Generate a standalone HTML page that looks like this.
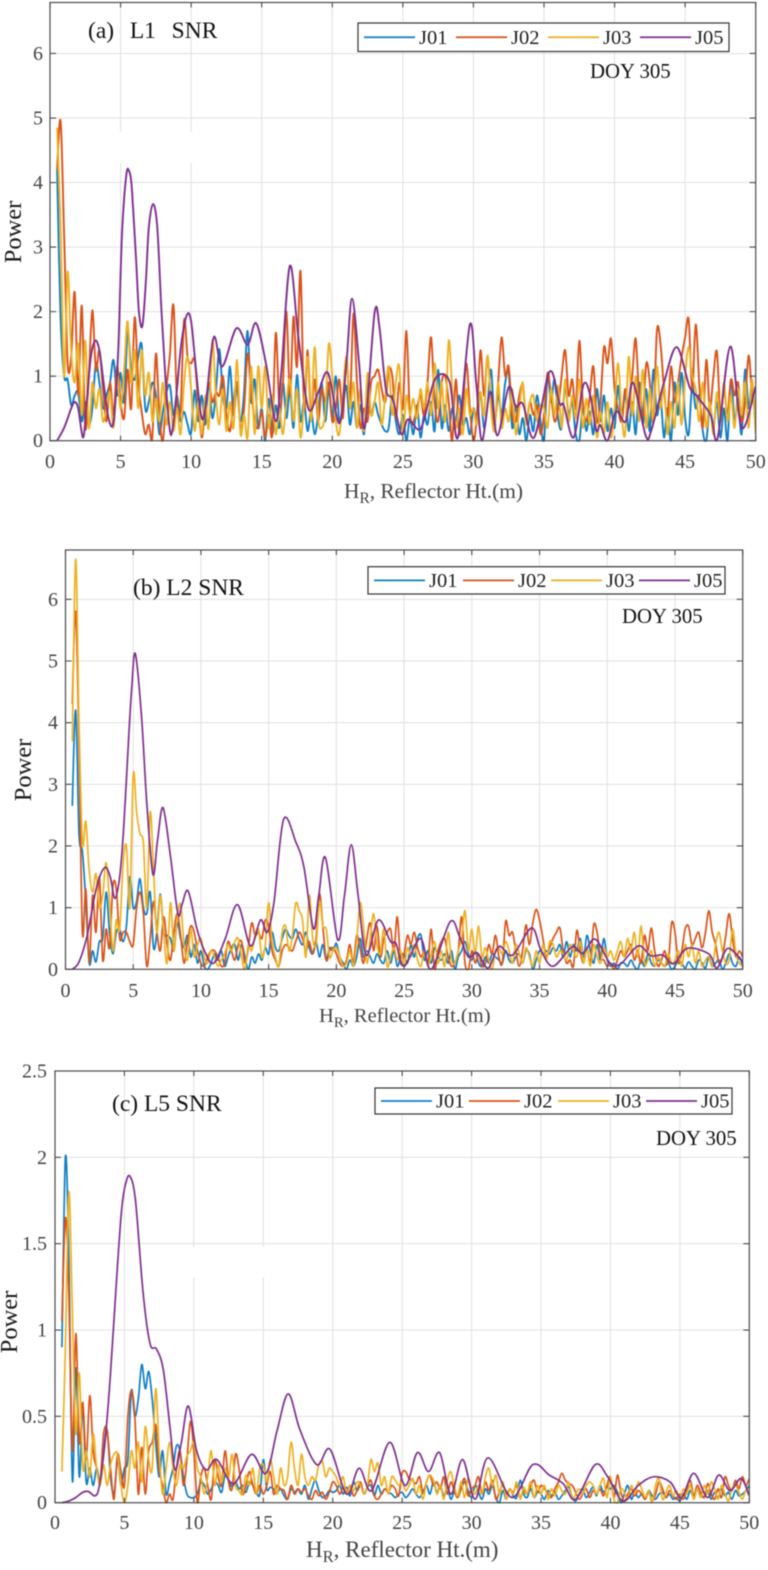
<!DOCTYPE html>
<html lang="en">
<head>
<meta charset="utf-8">
<title>Reflector height periodograms</title>
<style>
html,body{margin:0;padding:0;background:#fff}
svg{display:block;filter:blur(.4px)}
text{font-family:"Liberation Serif",serif}
.tick{font-size:20px;fill:#444}
.xl{font-size:20px;fill:#444}
.yl{font-size:24.5px;fill:#1c1c1c}
.ttl{font-size:23.5px;fill:#111}
.leg{font-size:20.5px;fill:#222}
.doy{font-size:20.8px;fill:#111}
</style>
</head>
<body>
<svg id="fig" xmlns="http://www.w3.org/2000/svg" width="768" height="1570" viewBox="0 0 768 1570"></svg>
<script>
// Tick labels
const xTicks = [0,5,10,15,20,25,30,35,40,45,50];
const yTicksAB = [0,1,2,3,4,5,6];
const yTicksC = [0,0.5,1,1.5,2,2.5];
const seriesNames = ["J01","J02","J03","J05"];

// Panel (a) L1 SNR. Noisy series are sampled every 0.25 m from 0.5 m.
const aJ01 = [4.2,1.9,1.0,.95,.55,.7,.75,.3,.6,.25,.5,1.2,.9,.5,.7,.9,1.25,.7,
1.05,.6,1.7,1.1,.95,1.3,1.48,.5,.6,.9,.7,.1,.45,.75,.85,.4,.7,.3,.45,.25,
.12,.78,.3,.7,.25,.9,.35,.75,1.42,.7,.5,1.15,.4,.85,.3,.75,1.7,.6,.95,.2,
.5,0,.65,.1,.55,.2,.9,.35,.8,.2,1.02,.3,.6,.15,.45,.1,.4,.9,.3,.8,
.35,1.0,.3,.5,.85,.25,.6,.2,.55,.1,.9,.4,.6,.4,.25,.15,.2,.7,.3,.1,
.4,0,.35,.1,.55,.05,.4,.25,.6,.15,1.1,.2,.55,.15,.5,.3,.7,.25,.35,.1,
.5,.3,.75,.2,.55,1.1,.3,.7,.4,.9,1.05,.2,.55,.1,.35,0,.4,.15,.7,.3,
0,1.0,.6,.95,.35,.2,.85,.4,.6,.1,0,.5,.15,.45,.1,.8,.3,.7,.15,.5,
.2,.85,.3,.75,.15,.6,.1,.9,.25,.8,.15,1.1,.4,.7,.05,.5,0,.9,.4,1.05,
.35,.1,.85,.5,.7,.15,0,.55,.2,.6,.05,.5,0,.95,.3,.65,.1,1.1,.5,.9,
.15];
const aJ02 = [4.2,4.95,3.2,1.2,1.3,2.3,.7,2.09,.2,1.0,2.02,1.1,1.4,.8,.3,.9,.4,1.15,
.6,.35,1.1,.5,1.91,.9,.45,.1,.25,.05,1.35,.4,0,.8,1.35,2.1,.6,.5,1.87,1.3,
1.2,1.25,.6,.05,.5,.9,.6,.75,.7,1.0,.4,.15,.6,.9,.2,.5,1.35,.8,.3,.2,
.45,.05,.4,.1,1.67,.5,.9,2.0,.7,1.92,1.15,2.63,.5,1.4,.4,.95,.3,.8,.6,.9,
.3,.5,.95,.35,1.3,.6,1.97,.9,.2,.5,.3,.9,1.0,1.1,.8,.6,1.1,1.0,.35,.9,
.5,1.7,.4,.3,.5,.7,.4,.9,1.6,.6,.3,.9,1.0,.6,0,.95,.1,.5,1.2,.5,
0,.4,1.4,.7,1.3,.6,.25,.9,1.6,1.0,1.15,.4,.3,.7,.85,.3,.6,.4,.55,.1,
.4,1.05,.7,.3,.5,1.0,1.4,.7,.95,.5,1.55,.6,.3,.7,1.15,.3,.6,1.45,1.2,1.58,
.8,.5,.3,.8,.5,1.0,1.58,.6,.4,1.2,.9,.3,1.7,1.52,.8,.4,1.15,.6,.9,1.3,
1.6,1.88,.8,1.8,.9,.2,1.25,.5,1.0,1.38,.4,.8,.4,.95,.7,.9,.3,.6,1.32,.7,
.5];
const aJ03 = [4.85,3.3,1.0,2.62,1.4,.9,1.5,.4,1.55,.2,.9,.5,.8,.3,.5,.75,.2,1.0,
.5,1.1,1.85,.9,1.4,.5,1.4,.7,1.05,.3,.65,.3,.9,.25,.6,.15,.5,.1,.9,1.3,
.8,.15,.6,.1,.7,.2,1.55,.7,.25,.8,.15,.6,.2,1.25,.1,.4,.05,1.15,.1,1.15,
.5,1.15,.2,.7,.1,.5,.1,.6,.95,.3,.8,.05,.6,1.3,.3,1.45,.35,.2,.45,1.5,
1.0,.3,.1,.7,1.3,.5,.9,.2,.8,.15,1.05,.4,.6,.9,.25,.7,1.15,.4,.9,1.15,
.1,.7,.4,.65,.35,.8,.5,.9,.4,1.2,.5,.9,.3,1.55,.8,.2,.5,.1,.8,.4,
.5,.25,.75,.4,1.32,.5,.15,.9,.2,.5,.3,.8,.1,.5,.9,.25,.6,.7,.3,.55,
.5,.2,.8,.4,.85,.2,.95,.3,.7,.35,.95,.2,.65,.25,.7,.05,.45,.1,.6,.05,
.5,1.2,.4,.1,1.3,.4,1.0,.3,1.1,.2,.8,.3,1.15,.5,.9,.1,.6,.2,.9,.25,
1.0,1.45,1.0,.8,.3,.9,.2,.6,.1,.75,.3,.9,.3,.7,.2,.8,.4,.9,.2,.95,
.1];
const aJ05X = [.5,1,1.5,1.75,2,2.35,2.6,2.9,3.2,3.5,3.8,4.1,4.4,4.6,4.85,5.1,5.4,5.6,5.8,6.1,6.3,6.55,6.8,7,7.3,7.6,7.9,8.2,8.5,8.7,9,9.3,9.7,10,10.3,10.7,11,11.6,12.2,13.2,14,14.6,15.3,16,16.4,17,17.6,18.3,19,19.7,20.5,21,21.4,21.9,22.3,23,23.35,23.8,24.3,24.9,25.35,26.1,26.5,27.3,28.3,28.9,29.75,30.2,30.6,31.2,31.7,32.5,33,33.5,34.3,35.4,36.1,36.4,37.1,37.8,38.3,38.7,39,39.5,40.1,40.8,41.3,42.2,42.6,43.5,44.4,45.3,45.8,46.8,47.3,48.2,49,50];
const aJ05Y = [0,.2,.5,.6,.5,.05,.6,1.3,1.55,1.4,.9,.4,.22,.5,1.5,3.2,4.1,4.18,3.9,2.8,2.0,1.78,2.5,3.3,3.67,3.3,2.0,.9,.15,.2,.8,1.5,1.95,1.85,1.2,.4,.5,1.6,1.15,1.74,1.49,1.82,1.2,.3,1.1,2.71,1.6,.5,.75,1.05,.27,1.2,2.2,1.2,.2,1.98,1.74,.8,.63,.1,.33,.17,.32,.96,.92,.05,1.8,.9,0,.76,.08,.83,.53,.57,.05,1.07,.58,.55,.05,.87,.68,.16,.24,0,.45,.3,.9,.08,.16,.9,1.45,.84,.7,.4,.04,1.46,.2,.84];

// Panel (b) L2 SNR
const bJ01 = [2.65,4.2,2.2,1.9,1.1,.1,.3,.12,.45,.5,1.25,.6,.25,.6,.65,.45,.7,1.5,
1.0,1.1,1.47,1.0,.9,1.25,.35,.6,1.22,.6,.55,.5,.3,.75,.5,.35,.55,.2,.4,.1,
.3,.05,0,.1,.25,.15,.3,.05,.2,.35,.4,.15,.4,.2,0,.2,.1,.25,.15,.35,
.25,.6,.35,.3,.5,.65,.55,.5,.65,.5,.4,.6,.35,.25,.45,.2,.4,.15,.35,.3,
.42,.2,.1,0,.15,.05,.2,.5,.2,.3,.2,.1,.25,.15,.1,.3,.1,.3,.05,.2,
.25,.1,.4,.2,.5,.55,.15,.3,.1,.35,.2,.15,.25,.1,.3,0,.2,.3,.45,.25,
.15,.3,.1,.05,.2,.1,.25,.2,.15,.1,.3,.15,.1,.2,.25,.1,.3,.25,0,.15,
.3,.25,.3,.25,.35,.3,.4,.2,.45,.2,.4,.3,.5,.2,.55,.3,.1,.4,.15,.5,
.15,.05,.1,0,.1,.1,.05,.15,.05,0,.15,.05,.25,.1,.05,.15,.1,.05,.1,0,
.05,.15,.1,.02,.12,.05,0,.15,.1,.02,.2,.05,.1,.15,0,.1,.25,.1,.05,.2,
.05];
const bJ02 = [4.3,5.8,3.6,.6,1.3,.1,1.2,.6,1.5,.15,.65,.35,1.35,1.3,.5,.6,.6,.45,
.4,1.0,1.25,.9,.05,.5,1.1,.6,.3,.85,.4,.15,.6,.9,.55,.1,.45,.7,.6,.3,
.1,.05,.2,.3,.3,.2,.05,.1,.45,.3,.15,.4,.45,.1,.35,.75,.55,.6,.5,.8,
.7,.3,.15,.05,.3,.4,.35,.3,.45,.6,.5,.3,.45,.25,.5,1.22,.7,.15,.3,.35,
.25,.1,.05,.15,.4,.1,.55,.35,.1,.5,.75,.3,.7,.2,.5,.6,.65,.3,.85,.1,
.25,.55,.4,.6,.35,.2,.3,.1,.65,0,.3,.45,.5,.2,.05,.1,.3,.85,.1,0,
.3,.1,.25,.05,.1,.4,.25,.55,.2,.1,.78,.55,.6,.3,.05,.3,.72,.4,.75,.97,
.8,.5,.2,.35,.5,.6,.67,.3,.1,.15,.05,.63,.3,.1,.35,.1,.72,.6,.2,.15,
.05,.1,0,.15,.3,.2,.3,.4,.15,.3,.1,.55,.3,.67,.3,.05,.15,.3,.1,.75,
.6,.1,.3,.65,.7,.4,.5,.6,.35,.6,.95,.6,.4,.1,.2,.55,.9,.5,.2,.3,
.2];
const bJ03 = [3.7,6.65,4.0,2.05,2.4,1.6,1.25,1.55,1.0,1.2,1.73,1.1,.3,.8,.65,1.7,2.0,1.0,
3.15,2.55,2.2,2.05,1.0,2.55,1.6,.6,1.2,.6,.1,1.08,.3,.85,1.05,.4,.15,.65,.2,.4,
.5,.2,.1,.3,.2,.05,.15,.25,.4,.3,.45,.5,.2,0,.4,.3,.55,.65,.2,.4,
1.08,.45,.2,.05,.6,.7,.3,.55,1.07,.95,.8,.2,1.2,.5,.4,1.1,.7,.65,.2,.3,
.35,.2,.05,.1,.3,.05,.45,1.08,.7,.1,.5,.9,.4,.25,.65,.05,.2,.35,.15,.3,
.05,.35,.2,.4,.15,.05,.3,.05,.25,.45,.1,.3,.05,.6,.15,.1,.3,.5,.95,.3,
.65,.25,.7,.2,.35,.15,0,.3,.35,.25,.45,.3,.1,.4,.25,.1,.35,.2,.05,.3,
.1,.4,.15,.45,.4,.2,.3,.25,.15,.4,.3,.2,.45,.1,.35,.05,.4,.2,.1,.35,
.2,.3,.15,.3,.45,.2,.5,.3,.6,.2,.7,.1,.15,.3,.05,.2,.1,.05,.25,.1,
.15,.3,.05,.4,.2,.4,.1,.3,.05,.15,.2,.05,.4,.6,.3,.1,.15,.65,.25,.1,
.05];
const bJ05X = [.5,1,1.6,2.3,2.9,3.3,3.65,4,4.3,4.65,4.9,5.15,5.6,6,6.45,6.8,7.2,7.75,8.3,8.6,9.05,9.7,10.3,10.95,11.8,12.7,13.65,14.4,14.9,15.4,16.1,17,17.6,18.3,18.7,19.2,20.1,20.6,21.1,21.6,22.2,23.1,24,24.4,25,26.2,27,28.4,29.1,29.75,30.4,31.2,32,33,34.4,35.1,36,37.4,38.2,39.1,40.2,41,42.3,43.2,44.1,44.9,45.9,47.5,48.1,48.9,50];
const bJ05Y = [0,.12,.55,1.34,1.65,1.5,1.15,1.5,2.3,3.7,4.6,5.12,4.15,2.7,1.54,2.1,2.62,1.83,.9,1.05,1.27,.66,.28,.1,.5,1.05,.38,.8,.6,1.1,2.43,2.07,1.66,.66,1.2,1.81,.48,1.2,2.02,1.2,.23,.8,.45,.42,.05,.5,0,.77,.53,.2,.27,.02,.37,.23,.67,.31,.05,.36,.26,.49,.1,.09,.38,.22,.23,.09,.34,.25,.02,.34,.12];

// Panel (c) L5 SNR
const cJ01 = [.9,2.0,1.4,.13,.78,.15,.55,.12,.2,.1,.2,.12,.3,.42,.15,.05,.25,.1,
.2,.25,.65,.5,.6,.8,.66,.76,.6,.35,.15,.3,.05,.12,.2,.33,.3,.15,.05,.03,
.03,.05,.12,.1,.05,.08,.12,.1,.06,.16,.13,.09,.12,.08,.1,.06,.12,.1,.06,.05,
.25,.08,.09,.08,.06,.08,.04,.02,.08,.06,.08,.05,.1,.02,.08,.13,.07,.03,.04,.07,
.06,.07,.1,.05,.09,.04,.12,.07,.1,.05,.09,.1,.04,.1,.05,.08,.06,.05,.03,.05,
.06,.03,.05,.08,.05,.03,.06,.1,.05,.12,.06,.1,.04,.09,.02,.06,.03,.08,.12,.07,
.03,.1,.06,.02,.08,.05,.1,.03,0,.07,.02,.08,.04,.03,.13,.05,.03,.08,.03,.06,
.05,.02,.07,.04,.06,.02,.04,.07,.09,.03,.01,.05,.08,.03,.06,.09,.04,.1,.06,.09,
.08,.1,.06,0,.05,.1,.02,.06,.03,.05,.02,.07,.04,.02,.05,.06,.03,.05,.02,.03,
.01,.05,.02,.07,.03,.08,.05,.03,.07,.02,.06,.03,.08,.04,.06,.02,.07,.04,.05,.07,
.1];
const cJ02 = [1.05,1.65,1.2,.3,.98,.35,.58,.25,.62,.3,.2,.12,.4,.42,.2,.02,.28,.18,
.1,.5,.65,.5,.05,.32,.05,.3,.35,.45,.2,.1,0,.05,.02,.2,.3,.1,.25,.47,
.3,0,.15,.2,.1,.02,.25,.15,.1,.3,.12,.08,.28,.2,.05,.1,.18,.1,.05,.1,
.05,.1,.18,.05,.1,.08,.07,.02,.1,.05,.08,.06,.08,.04,.02,.07,.04,.06,.02,.06,
.12,.1,.05,.09,.06,.1,.04,.07,.12,.05,.09,.13,.04,.02,.05,.08,.06,.1,.08,.04,
.17,.18,.14,.13,.11,.15,.06,.12,.16,.1,.12,.08,.15,.05,.12,.07,.03,.09,.14,.04,
.08,.1,.15,.05,.12,.07,.13,.02,.06,.1,.05,.08,.06,.1,.03,.07,.05,.1,.13,.06,
.1,.08,.05,.03,.08,.12,.17,.13,.11,.1,.06,.02,.05,.08,.03,.07,.05,.08,.04,.1,
.15,.03,.16,.06,.01,.05,.08,.04,.07,.05,.02,.06,.01,.05,.12,.08,.03,.07,.04,.02,
.05,.02,.08,.13,.04,.1,.06,.03,.11,.05,.02,.08,.03,.15,.1,.07,.13,.08,.15,.1,
.14];
const cJ03 = [.18,.9,1.8,1.1,.4,.75,.2,.3,.15,.4,.2,.1,.22,.1,.22,.28,.28,.1,
0,.1,.3,.2,.35,.12,.44,.25,.2,.66,.3,.05,.2,.35,.2,.1,.22,.2,.27,.3,
.35,.2,.15,.05,.15,.3,.1,.22,.12,.2,.14,.28,.1,.07,.05,.16,.1,.2,.05,.2,
.22,.12,.25,.15,.05,.2,.1,.15,.35,.2,.1,.28,.15,.1,.15,.13,.22,.24,.15,.2,
.18,.15,.1,.15,.05,.1,.07,.12,.1,.05,.1,.25,.18,.23,.1,.15,.05,.15,.13,.1,
.12,.07,.1,.14,.05,.1,.02,.12,.16,.13,.05,.1,.02,.13,.18,.1,.04,.12,.03,.14,
.08,.05,.1,.05,.15,.2,.1,.16,.05,.12,.02,.08,.05,.12,.02,.09,.05,.12,.03,.1,
.05,.1,.02,.08,.04,.1,.07,.05,.12,.02,.05,.08,.05,.1,.12,.1,.05,.1,.14,.03,
.15,.02,0,.08,.06,.02,.1,.05,.12,.08,.03,.07,0,.1,.14,.02,.06,.1,.04,.07,
.02,.08,.05,.1,.02,.08,.03,.1,.05,.12,.08,.02,.1,.05,.01,.08,.1,.06,.02,.07,
.04];
const cJ05X = [.5,1,1.5,2,2.4,2.9,3.2,3.6,4,4.4,4.8,5.1,5.4,5.8,6.35,6.85,7.3,7.8,8.3,8.65,9.1,9.6,10.2,10.9,11.65,12.85,14.15,15.2,16,16.8,17.65,18.85,19.8,21,21.9,22.8,24.1,25.2,26.1,26.9,27.7,28.5,29.35,30.25,31.2,32.9,34.4,35.6,36.6,37.5,38.9,39.8,40.9,42,43.1,44.3,45.1,46,47,47.8,48.6,49.4,50];
const cJ05Y = [0,.01,.03,.06,.065,.04,.1,.35,.75,1.25,1.7,1.85,1.89,1.75,1.21,.92,.89,.77,.42,.19,.35,.56,.3,.19,.25,.11,.28,.17,.42,.63,.42,.22,.31,.05,.2,.07,.35,.1,.29,.18,.29,.05,.25,.02,.26,.03,.22,.16,.11,.02,.22,.15,.01,.1,.15,.12,.03,.17,.03,.16,.07,.14,.04];

const seriesColors = ["#0f7fc4","#d95319","#edb120","#7e2f8e"];
const NS = "http://www.w3.org/2000/svg";
const fig = document.getElementById("fig");
const GRID_START = 0.5, GRID_STEP = 0.25, X_MAX = 50;

function mk(tag, attrs, parent, txt){
  const e = document.createElementNS(NS, tag);
  for (const k in attrs) e.setAttribute(k, attrs[k]);
  if (txt !== undefined) e.textContent = txt;
  parent.appendChild(e);
  return e;
}
function gridX(ys){ return ys.map((_, i) => GRID_START + GRID_STEP * i); }

function smoothPath(pts){
  let d = "M" + pts[0][0].toFixed(1) + " " + pts[0][1].toFixed(1);
  for (let i = 0; i < pts.length - 1; i++){
    const p0 = pts[Math.max(i-1,0)], p1 = pts[i], p2 = pts[i+1], p3 = pts[Math.min(i+2,pts.length-1)];
    const c1x = p1[0] + (p2[0]-p0[0])/6, c1y = p1[1] + (p2[1]-p0[1])/6;
    const c2x = p2[0] - (p3[0]-p1[0])/6, c2y = p2[1] - (p3[1]-p1[1])/6;
    d += "C" + c1x.toFixed(1) + " " + c1y.toFixed(1) + " " + c2x.toFixed(1) + " " + c2y.toFixed(1) + " " + p2[0].toFixed(1) + " " + p2[1].toFixed(1);
  }
  return d;
}

function drawPanel(cfg){
  const g = mk("g", {}, fig);
  
  
  const sx = v => cfg.left + v / X_MAX * (cfg.right - cfg.left);
  const sy = v => cfg.bottom - v / cfg.yMax * (cfg.bottom - cfg.top);

  // grid
  xTicks.forEach(t => {
    if (t > 0 && t < X_MAX) {
      const l = mk("line", {x1:sx(t), x2:sx(t), y1:cfg.top, y2:cfg.bottom, stroke:"#e0e0e0", "stroke-width":1}, g);
      
      
    }
  });
  cfg.gridBreaks.forEach(b => {
    const w = mk("line", {x1:sx(b.at), x2:sx(b.at), y1:b.from, y2:b.to, stroke:"#fff", "stroke-width":3}, g);
    
    
  });
  cfg.yTicks.forEach(t => {
    if (t > 0 && t < cfg.yMax) {
      const l = mk("line", {x1:cfg.left, x2:cfg.right, y1:sy(t), y2:sy(t), stroke:"#e0e0e0", "stroke-width":1}, g);
      
      
    }
  });

  // series
  const clipId = cfg.id + "-clip";
  const cp = mk("clipPath", {id:clipId}, g);
  mk("rect", {x:cfg.left, y:cfg.top, width:cfg.right-cfg.left, height:cfg.bottom-cfg.top+1}, cp);
  cfg.series.forEach((s, i) => {
    const xs = s.x || gridX(s.y);
    const pts = s.y.map((v, k) => [sx(xs[k]), sy(v)]);
    const p = mk("path", {d:smoothPath(pts), fill:"none", stroke:seriesColors[i], "stroke-width":cfg.lw, "stroke-linejoin":"round", "clip-path":"url(#"+clipId+")"}, g);
    
    
  });

  // axes box and ticks
  const box = mk("rect", {x:cfg.left, y:cfg.top, width:cfg.right-cfg.left, height:cfg.bottom-cfg.top, fill:"none", stroke:"#4a4a4a", "stroke-width":1.2}, g);
  
  
  let tickD = "";
  xTicks.forEach(t => {
    tickD += "M"+sx(t)+" "+cfg.bottom+"v-5M"+sx(t)+" "+cfg.top+"v5";
  });
  cfg.yTicks.forEach(t => {
    tickD += "M"+cfg.left+" "+sy(t)+"h6M"+cfg.right+" "+sy(t)+"h-6";
  });
  const ticks = mk("path", {d:tickD, stroke:"#4a4a4a", "stroke-width":1.1, fill:"none"}, g);
  
  

  // tick labels
  xTicks.forEach(t => {
    const e = mk("text", {x:sx(t), y:cfg.xTickY, "text-anchor":"middle", class:"tick"}, g, String(t));
    
    
  });
  cfg.yTicks.forEach(t => {
    const e = mk("text", {x:cfg.yTickX, y:sy(t)+6.5, "text-anchor":"end", class:"tick"}, g, String(t));
    
    
  });

  // axis titles
  const xl = mk("text", {x:cfg.xl[0], y:cfg.xl[1], class:"xl", style:"font-size:"+cfg.xl[2]+"px"}, g);
  
  
  mk("tspan", {}, xl, "H");
  mk("tspan", {dy:5, style:"font-size:"+(cfg.xl[2]*0.72)+"px"}, xl, "R");
  mk("tspan", {dy:-5}, xl, ", Reflector Ht.(m)");
  const yl = mk("text", {transform:"translate("+cfg.yl[0]+" "+cfg.yl[1]+") rotate(-90)", "text-anchor":"middle", class:"yl"}, g, "Power");
  
  

  // panel title and DOY
  const tt = mk("text", {x:cfg.title[1], y:cfg.title[2], class:"ttl", style:"white-space:pre;word-spacing:"+cfg.title[3]+"px"}, g, cfg.title[0]);
  
  
  const dy = mk("text", {x:cfg.doy[0], y:cfg.doy[1], class:"doy"}, g, "DOY 305");
  
  

  // legend
  const lg = mk("g", {}, g);
  
  
  mk("rect", {x:cfg.leg.l, y:cfg.leg.t, width:cfg.leg.r-cfg.leg.l, height:cfg.leg.b-cfg.leg.t, fill:"#fff", stroke:"#333", "stroke-width":1.2}, lg);
  const midY = (cfg.leg.t + cfg.leg.b) / 2;
  seriesNames.forEach((n, i) => {
    const x0 = cfg.leg.x[i];
    const en = mk("g", {}, lg);
    
    
    mk("line", {x1:x0, x2:x0+51, y1:midY, y2:midY, stroke:seriesColors[i], "stroke-width":1.8}, en);
    mk("text", {x:x0+55, y:midY+6.5, class:"leg"}, en, n);
  });
}

drawPanel({id:"panel-a-l1-snr", left:50, right:755.7, top:2.5, bottom:440.7, yMax:6.79, yTicks:yTicksAB, lw:1.9,
  gridBreaks:[{at:5,from:132,to:163},{at:10,from:132,to:163}],
  xTickY:468, yTickX:43, xl:[344,498,21.4], yl:[21,232], title:["(a)  L1  SNR",88,38,2], doy:[590,78],
  leg:{l:358,r:729,t:23,b:51.5,x:[364,456,548,640]},
  series:[{y:aJ01},{y:aJ02},{y:aJ03},{x:aJ05X,y:aJ05Y}]});
drawPanel({id:"panel-b-l2-snr", left:65.5, right:742.7, top:550, bottom:969.3, yMax:6.8, yTicks:yTicksAB, lw:1.7,
  gridBreaks:[],
  xTickY:997, yTickX:58, xl:[319,1022,20.5], yl:[31,770], title:["(b) L2 SNR",133,595,0], doy:[622,623],
  leg:{l:368,r:725,t:566.7,b:594,x:[374,463,551,639]},
  series:[{y:bJ01},{y:bJ02},{y:bJ03},{x:bJ05X,y:bJ05Y}]});
drawPanel({id:"panel-c-l5-snr", left:55, right:749.3, top:1071, bottom:1502.7, yMax:2.5, yTicks:yTicksC, lw:1.7,
  gridBreaks:[{at:10,from:1247,to:1277},{at:15,from:1247,to:1277}],
  xTickY:1529, yTickX:47, xl:[306,1557,23], yl:[17,1322], title:["(c) L5 SNR",112,1111,0], doy:[656,1145],
  leg:{l:375,r:732,t:1088,b:1114,x:[381,469,558,646]},
  series:[{y:cJ01},{y:cJ02},{y:cJ03},{x:cJ05X,y:cJ05Y}]});
</script>
</body>
</html>
